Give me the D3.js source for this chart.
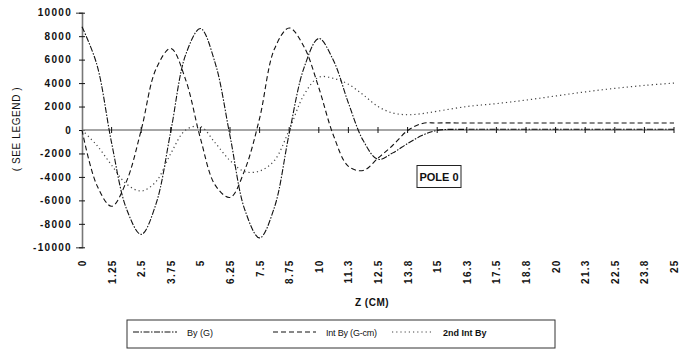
<!DOCTYPE html>
<html>
<head>
<meta charset="utf-8">
<script src="https://cdn.jsdelivr.net/npm/d3@7"></script>
<style>
  body { margin: 0; background: #fff; }
  text { font-family: "Liberation Sans", Arial, sans-serif; fill: #111; }
  .tickLbl { font-size: 10px; font-weight: bold; letter-spacing: 1.3px; }
</style>
</head>
<body>
<svg id="chart" width="681" height="351"></svg>
<script>
const zValues = [0, 0.625, 1.25, 1.875, 2.5, 3.125, 3.75, 4.375, 5, 5.625, 6.25, 6.875, 7.5, 8.125, 8.75, 9.375,
                 10, 10.625, 11.25, 11.875, 12.5, 13.125, 13.75, 14.375, 15, 16.25, 17.5, 18.75, 20, 21.25, 22.5, 23.75, 25];
const byG = [8800, 5600, -1100, -6700, -8900, -6300, -100, 6400, 8650, 5700, -500, -6800, -9200, -6600, -300, 5300,
             7800, 5900, 2300, -900, -2500, -1950, -1150, -450, -30, 60, 60, 60, 60, 60, 60, 60, 60];
const intBy = [0, -4700, -6500, -4400, 0, 5200, 6950, 4300, -700, -4700, -5750, -3400, 1000, 6900, 8700, 7100,
               3600, -500, -3100, -3450, -2400, -1300, -50, 560, 600, 600, 600, 600, 600, 600, 600, 600, 600];
const int2By = [0, -1300, -3000, -4600, -5200, -4400, -2000, 0, 300, -1100, -2600, -3550, -3500, -2600, 0, 3000,
                4500, 4400, 3900, 3000, 2000, 1450, 1300, 1400, 1600, 2000, 2250, 2550, 2900, 3250, 3550, 3800, 4000];

const xTickValues = d3.range(0, 21).map(i => i * 1.25);
const xTickLabels = ["0", "1.25", "2.5", "3.75", "5", "6.25", "7.5", "8.75", "10", "11.3", "12.5", "13.8",
                     "15", "16.3", "17.5", "18.8", "20", "21.3", "22.5", "23.8", "25"];
const yTickValues = [10000, 8000, 6000, 4000, 2000, 0, -2000, -4000, -6000, -8000, -10000];

const seriesNames = ["By (G)", "Int By (G-cm)", "2nd Int By"];

var svg = d3.select("svg#chart"),
    plotLeft = 82, plotRight = 674, plotTop = 12.7, plotBottom = 247.3;

var x = d3.scaleLinear().domain([0, 25]).range([plotLeft, plotRight]);
var y = d3.scaleLinear().domain([-10000, 10000]).range([plotBottom, plotTop]);

// Y AXIS
var yAxis = d3.axisLeft(y)
              .tickValues(yTickValues)
              .tickFormat(d => String(d));
var yg = svg.append("g")
    .attr("transform", `translate(${plotLeft},0)`)
    .call(yAxis);
yg.select(".domain").attr("stroke", "#777").attr("stroke-width", 1.6);
yg.selectAll(".tick line").attr("x1", -3).attr("x2", 3).attr("stroke", "#111");
yg.selectAll(".tick text").attr("class", "tickLbl").attr("x", -10);

// X labels along the bottom
var xAxis = d3.axisBottom(x)
              .tickValues(xTickValues)
              .tickFormat((d, i) => xTickLabels[i])
              .tickSize(0);
var xg = svg.append("g")
    .attr("transform", `translate(0,${plotBottom})`)
    .call(xAxis);
xg.select(".domain").remove();
xg.selectAll(".tick text")
    .attr("class", "tickLbl")
    .attr("transform", "rotate(-90)")
    .attr("x", -12)
    .attr("y", 0)
    .attr("dy", "0.35em")
    .style("text-anchor", "end");

// zero line with crossing ticks
var zero = svg.append("g").attr("transform", `translate(0,${y(0)})`);
zero.append("line").attr("x1", plotLeft).attr("x2", plotRight)
    .attr("stroke", "#888").attr("stroke-width", 1.5);
zero.selectAll(".zt").data(xTickValues.slice(1))
  .enter().append("line")
    .attr("class", "zt")
    .attr("x1", d => x(d)).attr("x2", d => x(d))
    .attr("y1", -3).attr("y2", 3)
    .attr("stroke", "#111");

// SERIES
var styles = [
  { data: byG, dash: "6,1.5,1.5,1.5", color: "#111", width: 1.1 },
  { data: intBy, dash: "5,3", color: "#111", width: 1.1 },
  { data: int2By, dash: "1.2,3", color: "#444", width: 1.2 }
];
var line = d3.line()
    .x((d, i) => x(zValues[i]))
    .y(d => y(d))
    .curve(d3.curveCatmullRom.alpha(0.5));

svg.append("g").selectAll("path.series")
    .data(styles)
  .enter().append("path")
    .attr("class", "series")
    .attr("fill", "none")
    .attr("stroke", d => d.color)
    .attr("stroke-width", d => d.width)
    .attr("stroke-dasharray", d => d.dash)
    .attr("d", d => line(d.data));

// axis titles
svg.append("text")
    .attr("transform", "translate(20,129) rotate(-90)")
    .attr("text-anchor", "middle")
    .style("font-size", "10px")
    .style("letter-spacing", "0.6px")
    .text("( SEE LEGEND )");

svg.append("text")
    .attr("x", 372).attr("y", 306)
    .attr("text-anchor", "middle")
    .style("font-size", "10px")
    .style("font-weight", "bold")
    .style("letter-spacing", "0.5px")
    .text("Z (CM)");

// POLE 0 label
var pole = svg.append("g").attr("transform", "translate(417,165.5)");
pole.append("rect").attr("width", 44).attr("height", 22)
    .attr("fill", "#fff").attr("stroke", "#222").attr("stroke-width", 1);
pole.append("text").attr("x", 22).attr("y", 15.5)
    .attr("text-anchor", "middle")
    .style("font-size", "11px").style("font-weight", "bold")
    .text("POLE 0");

// LEGEND
var legend = svg.append("g").attr("transform", "translate(127,320)");
legend.append("rect").attr("width", 428).attr("height", 28)
    .attr("fill", "#fff").attr("stroke", "#333").attr("stroke-width", 1);
var legendPos = [{ lx: 6, tx: 60 }, { lx: 146, tx: 199 }, { lx: 265, tx: 316 }];
var items = legend.selectAll(".item").data(styles)
  .enter().append("g").attr("class", "item");
items.append("line")
    .attr("x1", (d, i) => legendPos[i].lx)
    .attr("x2", (d, i) => legendPos[i].tx - 10)
    .attr("y1", 12).attr("y2", 12)
    .attr("stroke", d => d.color)
    .attr("stroke-width", d => d.width)
    .attr("stroke-dasharray", d => d.dash);
items.append("text")
    .attr("x", (d, i) => legendPos[i].tx)
    .attr("y", 15.5)
    .style("font-size", "9px")
    .style("font-weight", (d, i) => i === 2 ? "bold" : "normal")
    .style("letter-spacing", (d, i) => i === 1 ? "-0.2px" : "0px")
    .text((d, i) => seriesNames[i]);
</script>
</body>
</html>
